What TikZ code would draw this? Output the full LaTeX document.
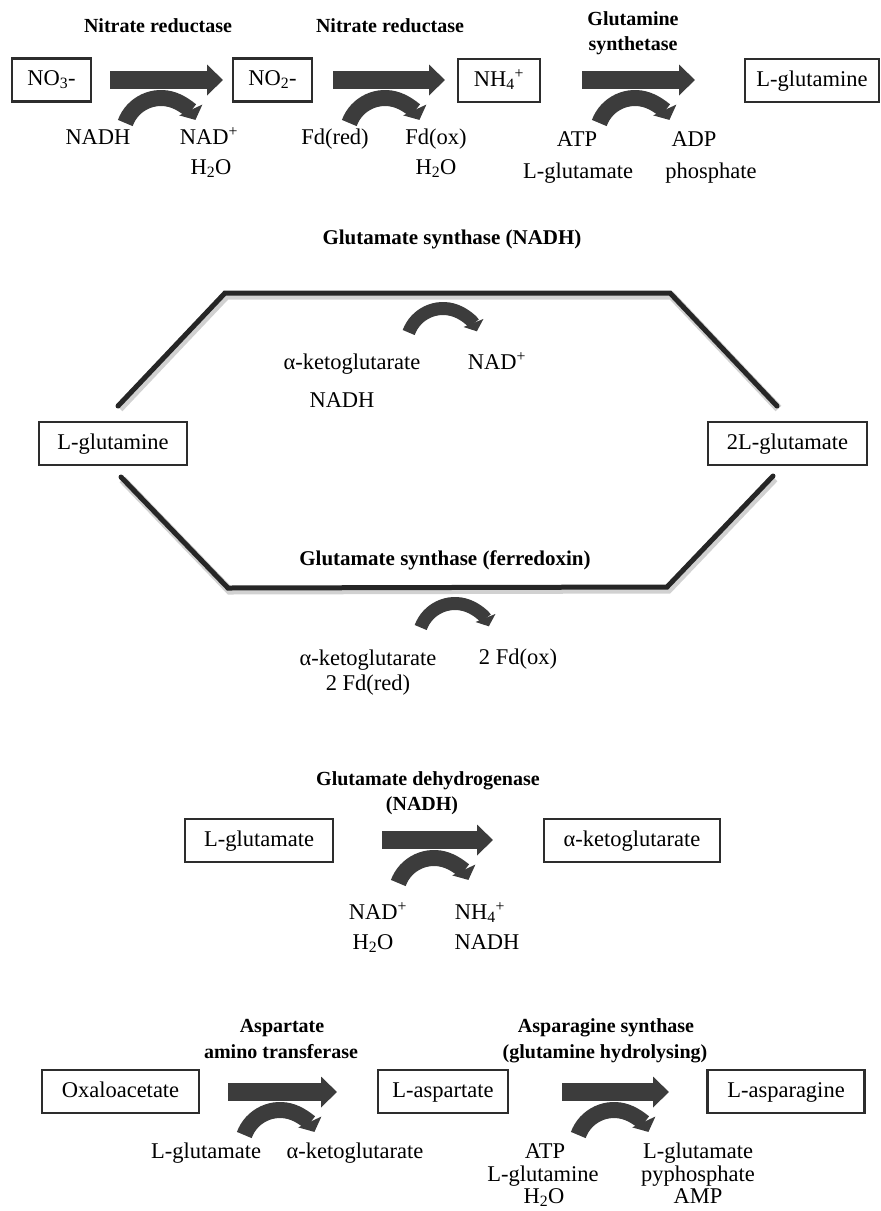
\documentclass[tikz,border=0pt]{standalone}
\usepackage{fontspec}
\setmainfont{Liberation Serif}
\usetikzlibrary{arrows.meta}
\definecolor{rxngray}{RGB}{60,60,60}
\definecolor{boxgray}{RGB}{45,45,45}
\newcommand\lblfont{\fontsize{22.5}{27}\selectfont}
\newcommand\enzfont{\bfseries\fontsize{20}{24}\selectfont}
\tikzset{
  cmpd/.style={draw=boxgray,line width=2.2pt,minimum height=43pt,inner sep=0pt,
    text height=16pt,text depth=5pt,font=\lblfont},
  lbl/.style={font=\lblfont,inner sep=0pt,anchor=base},
  enz/.style={font=\enzfont,inner sep=0pt,anchor=base},
  rxn/.style={rxngray,line width=18pt,-{Triangle[length=16pt,width=30pt]}},
  cof/.style={rxngray,line width=16pt,-{Triangle[length=11pt,width=25pt]}},
  cofsm/.style={rxngray,line width=13pt,-{Triangle[length=9pt,width=21pt]}},
  route/.style={black!85,line width=5pt,line cap=round,line join=miter,
    preaction={draw=black!18,line width=8pt,transform canvas={shift={(1.5,2.5)}}}}
}

\begin{document}
\begin{tikzpicture}[x=1pt,y=-1pt]
\useasboundingbox (0,0) rectangle (881,1211);

% nitrate -> glutamine
\node[cmpd,minimum width=79pt] (no3) at (51.5,80) {NO\textsubscript{3}-};
\node[cmpd,minimum width=79pt] (no2) at (272.5,80) {NO\textsubscript{2}-};
\node[cmpd,minimum width=82pt] (nh4) at (499,80.5) {NH\textsubscript{4}\textsuperscript{+}};
\node[cmpd,minimum width=134pt] (gln1) at (812,80.5) {L-glutamine};

\coordinate (r1s) at (110,80); \coordinate (r1e) at (223,80);
\coordinate (r2s) at (333,80); \coordinate (r2e) at (445,80);
\coordinate (r3s) at (582,80); \coordinate (r3e) at (695,80);
\draw[rxn] (r1s) -- (r1e);
\draw[rxn] (r2s) -- (r2e);
\draw[rxn] (r3s) -- (r3e);
\draw[cof] (161,136) ++(-160:38) arc[start angle=-160,end angle=-25,radius=38];
\draw[cof] (385,136) ++(-160:38) arc[start angle=-160,end angle=-25,radius=38];
\draw[cof] (635,136) ++(-160:38) arc[start angle=-160,end angle=-25,radius=38];

\node[enz] (nr1) at (158,32) {Nitrate reductase};
\node[enz] (nr2) at (390,32) {Nitrate reductase};
\node[enz] (gs1) at (633,25) {Glutamine};
\node[enz] (gs2) at (633,50) {synthetase};

\node[lbl] (nadh1) at (98,144) {NADH};
\node[lbl] (nad1) at (209,144) {NAD\textsuperscript{+}};
\node[lbl] (wat1) at (211,174) {H\textsubscript{2}O};
\node[lbl] (fdr1) at (335,144) {Fd(red)};
\node[lbl] (fdo1) at (436,144) {Fd(ox)};
\node[lbl] (wat2) at (436,174) {H\textsubscript{2}O};
\node[lbl] (atp1) at (577,146) {ATP};
\node[lbl] (glu1) at (578,178) {L-glutamate};
\node[lbl] (adp1) at (694,146) {ADP};
\node[lbl] (pho1) at (711,178) {phosphate};

% GOGAT cycle
\node[cmpd,minimum width=148pt] (gln2) at (113,443.5) {L-glutamine};
\node[cmpd,minimum width=159pt] (glu2) at (787.5,443.5) {2L-glutamate};
\draw[route] (118,406) -- (225,293) -- (670,293) -- (777,406);
\draw[route] (121,477) -- (228,588) -- (667,587) -- (773,476);
\draw[cofsm] (443,345) ++(-160:36.5) arc[start angle=-160,end angle=-22,radius=36.5];
\draw[cofsm] (455,640) ++(-160:36.5) arc[start angle=-160,end angle=-22,radius=36.5];

\node[enz,font=\bfseries\fontsize{21}{24}\selectfont] (gsn) at (452,244) {Glutamate synthase (NADH)};
\node[enz,font=\bfseries\fontsize{21}{24}\selectfont] (gsf) at (445,565) {Glutamate synthase (ferredoxin)};

\node[lbl] (akg2) at (352,369) {α-ketoglutarate};
\node[lbl] (nadh2) at (342,407) {NADH};
\node[lbl] (nad2) at (497,369) {NAD\textsuperscript{+}};
\node[lbl] (akg3) at (368,665) {α-ketoglutarate};
\node[lbl] (fdr2) at (368,690) {2 Fd(red)};
\node[lbl] (fdo2) at (518,664) {2 Fd(ox)};

% glutamate dehydrogenase
\node[cmpd,minimum width=148pt] (glu3) at (259,840.5) {L-glutamate};
\node[cmpd,minimum width=176pt] (akg4) at (632,840.5) {α-ketoglutarate};
\coordinate (r4s) at (382,840); \coordinate (r4e) at (493,840);
\draw[rxn] (r4s) -- (r4e);
\draw[cof] (434,896) ++(-160:38) arc[start angle=-160,end angle=-25,radius=38];

\node[enz] (gdh1) at (428,785) {Glutamate dehydrogenase};
\node[enz] (gdh2) at (422,810) {(NADH)};

\node[lbl] (nad3) at (378,919) {NAD\textsuperscript{+}};
\node[lbl] (wat3) at (373,949) {H\textsubscript{2}O};
\node[lbl] (nh4b) at (480,919) {NH\textsubscript{4}\textsuperscript{+}};
\node[lbl] (nadh3) at (487,949) {NADH};

% aspartate and asparagine
\node[cmpd,minimum width=157pt] (oaa) at (120.5,1091.5) {Oxaloacetate};
\node[cmpd,minimum width=130pt] (asp) at (443,1091.5) {L-aspartate};
\node[cmpd,minimum width=157pt] (asn) at (786,1091.5) {L-asparagine};
\coordinate (r5s) at (228,1092); \coordinate (r5e) at (337,1092);
\coordinate (r6s) at (562,1092); \coordinate (r6e) at (669,1092);
\draw[rxn] (r5s) -- (r5e);
\draw[rxn] (r6s) -- (r6e);
\draw[cof] (280,1148) ++(-160:38) arc[start angle=-160,end angle=-25,radius=38];
\draw[cof] (614,1148) ++(-160:38) arc[start angle=-160,end angle=-25,radius=38];

\node[enz] (aat1) at (282,1032) {Aspartate};
\node[enz] (aat2) at (281,1058) {amino transferase};
\node[enz] (as1) at (606,1032) {Asparagine synthase};
\node[enz] (as2) at (605,1058) {(glutamine hydrolysing)};

\node[lbl] (glu4) at (206,1158) {L-glutamate};
\node[lbl] (akg5) at (355,1158) {α-ketoglutarate};
\node[lbl] (atp2) at (545,1158) {ATP};
\node[lbl] (gln3) at (543,1181) {L-glutamine};
\node[lbl] (wat4) at (544,1203) {H\textsubscript{2}O};
\node[lbl] (glu5) at (698,1158) {L-glutamate};
\node[lbl] (ppi) at (698,1181) {pyphosphate};
\node[lbl] (amp) at (698,1203) {AMP};
\end{tikzpicture}
\end{document}
